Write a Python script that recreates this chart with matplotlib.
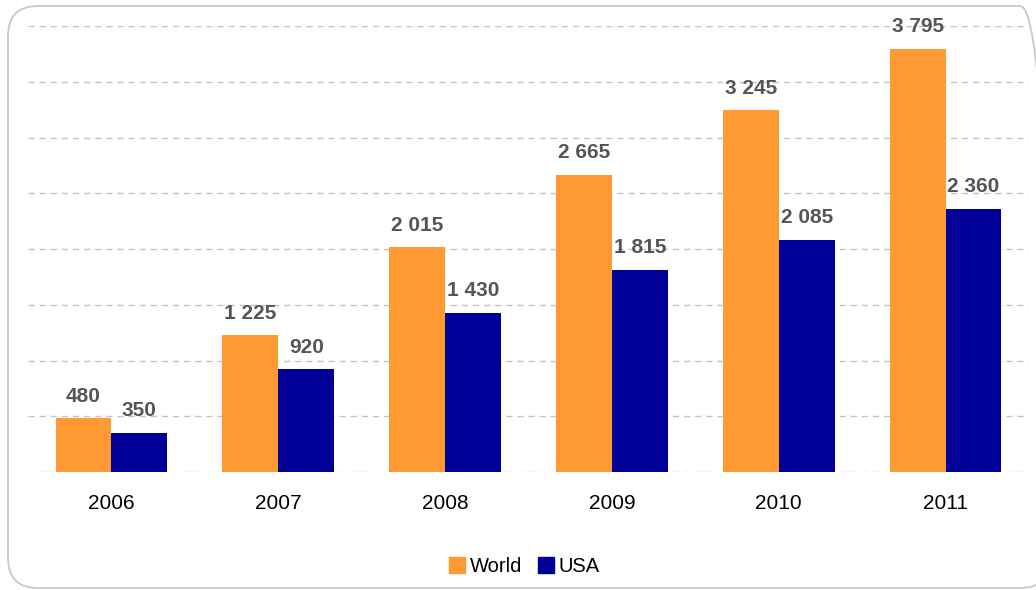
import numpy as np
import matplotlib.pyplot as plt
from matplotlib.patches import FancyBboxPatch
from matplotlib.lines import Line2D

# datos
years = ['2006', '2007', '2008', '2009', '2010', '2011']
world = [480, 1225, 2015, 2665, 3245, 3795]
usa = [350, 920, 1430, 1815, 2085, 2360]
series_names = ['World', 'USA']

c_world = '#FF9933'
c_usa = '#000099'

plt.rcParams['font.family'] = ['Liberation Sans', 'DejaVu Sans']

fig = plt.figure(figsize=(10.36, 5.90), dpi=100)
ax = fig.add_axes([28/1036, 1-472/590, (1029-28)/1036, (472-26)/590])

# marco redondeado (el lado derecho queda fuera de la imagen)
box = FancyBboxPatch((0.08, 0.02), 10.42, 5.82,
                     boxstyle='round,pad=0,rounding_size=0.30',
                     transform=fig.dpi_scale_trans, fill=False,
                     edgecolor='#c8c8c8', linewidth=1.3, zorder=-5)
fig.patches.append(box)

x = np.arange(len(years))
w = 0.335
b1 = ax.bar(x - w/2, world, w, color=c_world, zorder=3)
b2 = ax.bar(x + w/2, usa, w, color=c_usa, zorder=3)

def fmt(v):
    return f'{v:,}'.replace(',', ' ')

for bars, vals in ((b1, world), (b2, usa)):
    for r, v in zip(bars, vals):
        ax.annotate(fmt(v), (r.get_x() + r.get_width()/2, v),
                    xytext=(0, 12), textcoords='offset points',
                    ha='center', va='baseline', fontsize=15,
                    fontweight='bold', color='#555555', zorder=4)

ax.set_xlim(-0.5, 5.5)
ax.set_ylim(0, 4000)
ax.set_yticks(np.arange(0, 4001, 500))
ax.yaxis.grid(True, linestyle=(0, (4.5, 3.5)), color='#c4c4c4', linewidth=1)
ax.set_yticklabels([])
ax.tick_params(axis='y', length=0)
ax.set_xticks(x)
ax.set_xticklabels(years, fontsize=15)
ax.tick_params(axis='x', length=0, pad=16)
for s in ax.spines.values():
    s.set_visible(False)

handles = [Line2D([], [], marker='s', linestyle='', markersize=11, color=c_world),
           Line2D([], [], marker='s', linestyle='', markersize=11, color=c_usa)]
fig.legend(handles, series_names, loc='center', bbox_to_anchor=(525/1036, 1-567/590),
           ncol=2, frameon=False, fontsize=14.5, handlelength=0.7,
           handletextpad=0.3, columnspacing=0.8)

fig.savefig('out.png', dpi=100)
